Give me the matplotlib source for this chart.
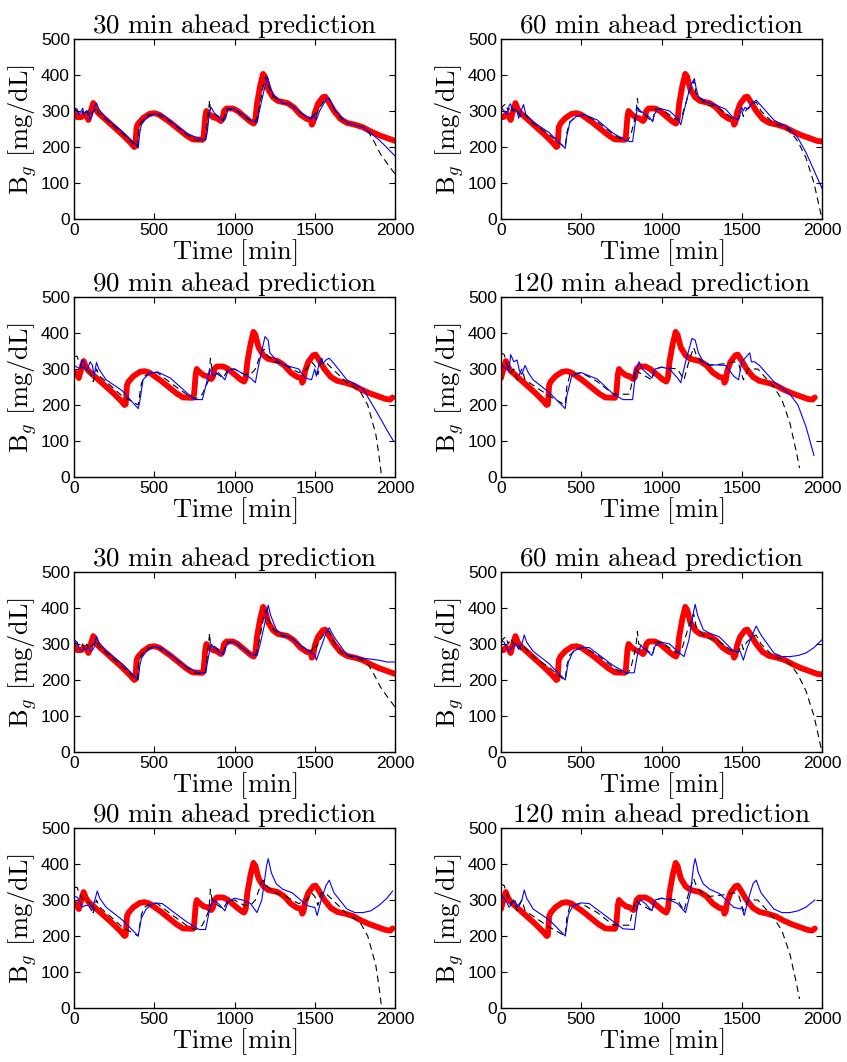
import numpy as np
import matplotlib
matplotlib.use("Agg")
import matplotlib.pyplot as plt

plt.rcParams['mathtext.fontset'] = 'cm'
plt.rcParams['font.family'] = ['Liberation Sans', 'DejaVu Sans']

# Horizontes de prediccion (min) y desplazamiento temporal de la medida real
horizons = [30, 60, 90, 120]
red_shift = [0, 30, 60, 90]

# Glucosa medida (curva roja), tiempo del panel de 30 min
red_t = [0, 10, 20, 45, 60, 75, 90, 105, 120, 135, 150, 200, 250, 300, 350, 375, 382, 390, 400,
         430, 470, 500, 530, 600, 650, 700, 740, 800, 808, 818, 825, 840, 870, 890, 915, 925, 935,
         950, 990, 1020, 1060, 1100, 1120, 1130, 1140, 1160, 1178, 1190, 1210, 1240, 1270, 1300,
         1330, 1370, 1410, 1450, 1475, 1482, 1490, 1500, 1520, 1550, 1565, 1580, 1620, 1660, 1700,
         1750, 1800, 1850, 1900, 1950, 2000, 2030, 2045]
red_bg = [300, 288, 283, 283, 290, 288, 275, 300, 322, 305, 295, 275, 255, 235, 213, 200, 202, 255, 265,
          280, 292, 294, 290, 268, 250, 232, 221, 220, 230, 285, 300, 292, 282, 280, 272, 278, 300,
          307, 307, 300, 285, 270, 265, 275, 320, 370, 403, 395, 360, 338, 328, 325,
          322, 310, 290, 278, 276, 262, 268, 295, 320, 338, 340, 330, 300, 278, 267,
          262, 255, 243, 233, 225, 217, 215, 221]

# Prediccion linea discontinua negra (igual en ambos bloques)
dash_t_30 = [0, 20, 40, 55, 65, 80, 95, 110, 125, 140, 150, 200, 300, 380, 395, 405, 420, 460, 510, 600,
             700, 760, 820, 830, 845, 850, 870, 900, 930, 945, 960, 1000, 1100, 1130, 1150, 1180, 1195,
             1210, 1240, 1300, 1350, 1450, 1480, 1495, 1510, 1530, 1570, 1590, 1620, 1680, 1750, 1800,
             1830, 1870, 1910, 1950, 2000]
dash_bg_30 = [305, 300, 290, 300, 285, 300, 285, 295, 300, 310, 295, 275, 238, 205, 200, 255, 270, 288, 293, 270,
              235, 218, 220, 265, 330, 300, 295, 285, 275, 300, 307, 305, 272, 268, 300, 370, 395,
              370, 340, 322, 318, 282, 280, 298, 290, 310, 335, 335, 305, 270, 262, 255,
              245, 215, 180, 155, 125]
dash_t_60 = [0, 15, 30, 45, 60, 80, 100, 120, 140, 160, 200, 300, 390, 400, 410, 430, 470, 520, 600, 700,
             760, 790, 810, 840, 850, 858, 880, 930, 945, 960, 1000, 1080, 1100, 1130, 1170, 1190, 1200,
             1215, 1240, 1280, 1330, 1400, 1450, 1480, 1500, 1510, 1530, 1570, 1590, 1620, 1700, 1770,
             1800, 1850, 1900, 1950, 1990, 2000]
dash_bg_60 = [305, 315, 320, 300, 315, 300, 305, 285, 295, 285, 265, 235, 202, 200, 240, 270, 285, 290, 270, 235,
              218, 218, 235, 290, 335, 300, 295, 275, 270, 305, 305, 280, 275, 290, 350, 370, 385,
              350, 335, 315, 315, 295, 275, 278, 300, 285, 305, 320, 325, 300, 265, 255,
              245, 215, 170, 100, 20, 0]
dash_t_90 = [0, 20, 30, 50, 70, 100, 120, 140, 160, 200, 300, 380, 400, 420, 440, 480, 520, 600, 700, 740,
             760, 800, 840, 850, 860, 880, 930, 960, 1000, 1060, 1100, 1130, 1170, 1185, 1200, 1250,
             1300, 1400, 1450, 1480, 1500, 1520, 1540, 1570, 1600, 1700, 1780, 1830, 1880, 1900, 1917]
dash_bg_90 = [335, 335, 320, 305, 300, 290, 265, 300, 280, 265, 225, 205, 200, 260, 280, 290, 290, 262, 230, 220,
              218, 230, 270, 330, 300, 290, 275, 300, 300, 285, 285, 300, 350, 355, 340, 320,
              315, 290, 300, 320, 310, 285, 320, 318, 305, 262, 240, 200, 120, 60, 0]
dash_t_120 = [0, 20, 40, 60, 80, 100, 130, 150, 200, 300, 400, 410, 430, 500, 600, 700, 800, 820, 840, 860,
              900, 940, 960, 1000, 1100, 1140, 1170, 1200, 1220, 1250, 1300, 1400, 1450, 1480, 1510,
              1540, 1570, 1600, 1700, 1750, 1800, 1840, 1860]
dash_bg_120 = [345, 340, 310, 290, 300, 270, 300, 270, 255, 225, 200, 250, 285, 290, 265, 230, 230, 270, 300, 290,
               280, 270, 300, 305, 300, 270, 320, 360, 335, 320, 310, 315, 320, 315, 270,
               300, 300, 300, 250, 215, 150, 70, 25]

# Prediccion azul, bloque superior
blue_a_t_30 = [0, 20, 30, 45, 55, 60, 75, 90, 100, 115, 130, 140, 155, 200, 300, 390, 400, 410, 420, 450,
               500, 550, 700, 800, 820, 830, 845, 855, 880, 930, 945, 960, 1000, 1100, 1140, 1150, 1180,
               1205, 1215, 1240, 1300, 1350, 1460, 1480, 1495, 1510, 1530, 1575, 1590, 1630, 1700, 1800,
               1850, 1900, 1950, 2000]
blue_a_bg_30 = [310, 305, 290, 300, 308, 290, 300, 300, 275, 290, 315, 322, 305, 280, 243, 205, 197, 240, 262, 280,
                292, 290, 238, 220, 220, 240, 300, 310, 290, 272, 280, 305, 306, 275, 268, 290, 350,
                395, 380, 345, 322, 318, 280, 278, 290, 275, 300, 335, 335, 300, 268, 255,
                238, 220, 198, 175]
blue_a_t_60 = [0, 20, 40, 50, 60, 70, 80, 100, 110, 125, 140, 155, 200, 300, 400, 410, 430, 470, 520, 600,
               700, 770, 800, 820, 840, 850, 870, 920, 945, 955, 975, 1000, 1050, 1100, 1120, 1140, 1180,
               1205, 1215, 1230, 1280, 1330, 1400, 1450, 1480, 1500, 1510, 1520, 1540, 1560, 1590, 1620,
               1700, 1800, 1850, 1900, 1950, 2000]
blue_a_bg_60 = [310, 300, 290, 315, 320, 300, 305, 300, 280, 300, 318, 290, 270, 240, 196, 230, 270, 285, 290, 275,
                238, 220, 215, 215, 280, 310, 300, 285, 270, 290, 305, 306, 300, 280, 262, 300, 370,
                390, 365, 340, 325, 318, 305, 280, 275, 310, 300, 310, 305, 320, 330, 315,
                275, 250, 225, 185, 135, 85]
blue_a_t_90 = [0, 20, 40, 50, 60, 70, 80, 100, 115, 125, 140, 155, 200, 300, 400, 410, 430, 470, 520, 600,
               700, 750, 800, 830, 845, 870, 900, 940, 960, 1000, 1100, 1130, 1150, 1190, 1210, 1220,
               1260, 1300, 1400, 1440, 1480, 1500, 1510, 1530, 1545, 1550, 1570, 1590, 1620, 1700,
               1800, 1900, 1950, 1990]
blue_a_bg_90 = [310, 305, 300, 325, 320, 305, 295, 320, 310, 280, 318, 300, 270, 240, 190, 210, 270, 288, 292, 275,
                235, 215, 215, 270, 300, 280, 290, 270, 295, 300, 275, 262, 310, 390, 380, 345,
                325, 313, 300, 275, 270, 300, 280, 320, 330, 315, 325, 330, 315, 270,
                245, 170, 130, 100]
blue_a_t_120 = [0, 40, 50, 60, 80, 100, 115, 130, 150, 170, 200, 300, 400, 410, 440, 500, 600, 700, 760, 820,
                840, 860, 880, 940, 960, 1000, 1050, 1100, 1120, 1150, 1190, 1210, 1230, 1260, 1300,
                1400, 1450, 1480, 1500, 1520, 1550, 1560, 1580, 1610, 1700, 1800, 1850, 1900, 1950]
blue_a_bg_120 = [310, 300, 295, 340, 320, 325, 295, 285, 310, 290, 270, 235, 190, 225, 280, 290, 272, 230, 215, 215,
                 295, 320, 300, 275, 300, 305, 300, 275, 262, 320, 385, 380, 345, 320, 312,
                 310, 280, 270, 320, 330, 345, 320, 320, 310, 265, 230, 200, 140, 60]

# Prediccion azul, bloque inferior
blue_b_t_30 = [0, 20, 35, 50, 70, 90, 100, 110, 125, 140, 155, 200, 300, 400, 410, 420, 450, 500, 550, 700,
               780, 820, 840, 855, 880, 930, 950, 970, 1000, 1100, 1140, 1160, 1190, 1210, 1225, 1260,
               1300, 1350, 1460, 1500, 1510, 1530, 1570, 1590, 1620, 1700, 1800, 1850, 1900, 1950, 2000]
blue_b_bg_30 = [312, 305, 285, 282, 285, 290, 285, 280, 290, 322, 305, 280, 245, 200, 240, 260, 280, 293, 288, 236,
                220, 220, 270, 300, 285, 270, 295, 305, 306, 272, 268, 300, 360, 408, 380, 340,
                325, 318, 280, 270, 255, 280, 330, 345, 320, 270, 260, 258, 255, 250, 250]
blue_b_t_60 = [0, 20, 40, 50, 70, 90, 110, 130, 145, 160, 200, 300, 400, 420, 450, 500, 550, 700, 780, 830,
               850, 870, 900, 940, 960, 1000, 1050, 1100, 1140, 1170, 1200, 1210, 1225, 1260, 1300, 1360,
               1450, 1490, 1510, 1530, 1570, 1590, 1620, 1700, 1750, 1800, 1850, 1900, 1950, 2000]
blue_b_bg_60 = [310, 305, 285, 280, 290, 300, 285, 300, 325, 305, 280, 245, 200, 250, 280, 290, 290, 240, 220, 220,
                270, 295, 285, 268, 295, 305, 300, 280, 265, 310, 390, 410, 380, 340, 330, 320,
                280, 280, 255, 285, 330, 350, 325, 275, 265, 265, 268, 275, 290, 312]
blue_b_t_90 = [0, 20, 40, 50, 70, 90, 110, 130, 145, 160, 200, 300, 400, 420, 450, 500, 550, 700, 780, 820,
               850, 870, 900, 940, 960, 1000, 1050, 1100, 1140, 1170, 1200, 1210, 1230, 1260, 1300, 1360,
               1450, 1490, 1500, 1515, 1540, 1570, 1590, 1620, 1700, 1750, 1800, 1850, 1900, 1950, 1985]
blue_b_bg_90 = [310, 308, 290, 280, 285, 285, 270, 300, 325, 305, 280, 245, 200, 250, 275, 292, 290, 240, 218, 218,
                285, 300, 290, 270, 295, 305, 300, 290, 265, 300, 395, 415, 375, 345, 330, 320,
                285, 280, 280, 257, 300, 340, 355, 320, 275, 265, 265, 270, 285, 305, 325]
blue_b_t_120 = [0, 20, 40, 50, 70, 90, 100, 130, 145, 160, 200, 300, 400, 420, 450, 500, 550, 700, 760, 830,
                850, 870, 900, 940, 960, 1000, 1050, 1100, 1150, 1180, 1200, 1210, 1230, 1260, 1300, 1360,
                1450, 1490, 1500, 1515, 1540, 1570, 1590, 1620, 1700, 1750, 1800, 1850, 1900, 1955]
blue_b_bg_120 = [310, 305, 290, 280, 290, 297, 280, 300, 328, 305, 275, 245, 200, 260, 285, 292, 290, 240, 220, 218,
                 285, 300, 290, 270, 300, 305, 300, 290, 265, 320, 395, 415, 375, 345, 330, 318,
                 280, 275, 280, 257, 300, 345, 355, 320, 275, 265, 265, 270, 280, 300]

dash_series = [(dash_t_30, dash_bg_30), (dash_t_60, dash_bg_60),
               (dash_t_90, dash_bg_90), (dash_t_120, dash_bg_120)]
blue_a = [(blue_a_t_30, blue_a_bg_30), (blue_a_t_60, blue_a_bg_60),
          (blue_a_t_90, blue_a_bg_90), (blue_a_t_120, blue_a_bg_120)]
blue_b = [(blue_b_t_30, blue_b_bg_30), (blue_b_t_60, blue_b_bg_60),
          (blue_b_t_90, blue_b_bg_90), (blue_b_t_120, blue_b_bg_120)]

fig = plt.figure(figsize=(8.47, 10.62), dpi=100)

W, H = 847, 1062
col_left = [74, 501]
row_top = [39, 297, 572, 828]
ax_w, ax_h = 321, 180


def dibujar(ax, k, blue):
    ax.plot(np.array(red_t) - red_shift[k], red_bg, color='red', lw=4.2, solid_capstyle='round')
    ax.plot(dash_series[k][0], dash_series[k][1], color='black', lw=0.8, ls=(0, (6, 4)))
    ax.plot(blue[0], blue[1], color='blue', lw=0.8)
    ax.set_xlim(0, 2000)
    ax.set_ylim(0, 500)
    ax.set_xticks([0, 500, 1000, 1500, 2000])
    ax.set_yticks([0, 100, 200, 300, 400, 500])
    ax.tick_params(direction='in', top=True, right=True, length=4, width=0.8,
                   labelsize=12.5, pad=3)
    for s in ax.spines.values():
        s.set_linewidth(1.0)
    ax.set_title(r'$\mathrm{%d\ min\ ahead\ prediction}$' % horizons[k], fontsize=19.5, pad=4)
    ax.set_xlabel(r'$\mathrm{Time\ [min]}$', fontsize=19, labelpad=-1)
    ax.set_ylabel(r'$\mathrm{B}_g\ \mathrm{[mg/dL]}$', fontsize=19, labelpad=1)


for r in range(4):
    for c in range(2):
        k = (r % 2) * 2 + c
        left = col_left[c] / W
        bottom = 1 - (row_top[r] + ax_h) / H
        ax = fig.add_axes([left, bottom, ax_w / W, ax_h / H])
        blue = blue_a[k] if r < 2 else blue_b[k]
        dibujar(ax, k, blue)

fig.savefig("out.png", dpi=100)
